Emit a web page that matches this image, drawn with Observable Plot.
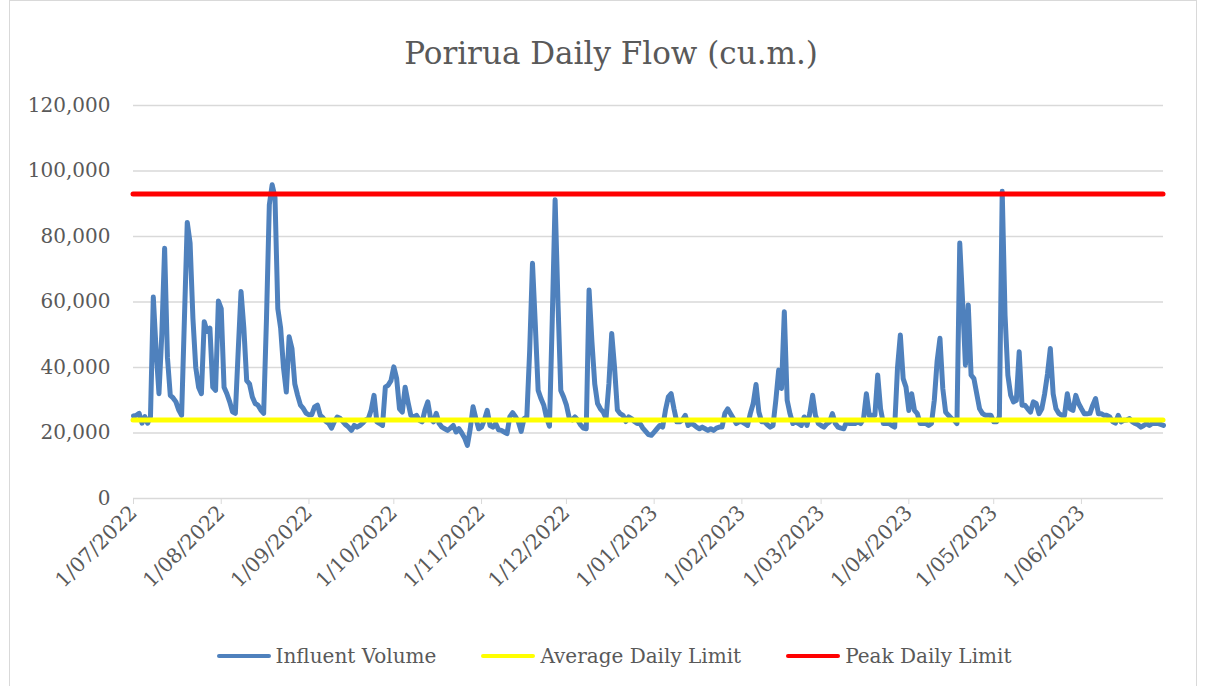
<!DOCTYPE html>
<html><head><meta charset="utf-8">
<script src="https://cdn.jsdelivr.net/npm/d3@7"></script>
<script src="https://cdn.jsdelivr.net/npm/@observablehq/plot@0.6"></script>
<style>
body{margin:0;background:#fff;}
#wrap{position:relative;width:1206px;height:686px;overflow:hidden;font-family:"DejaVu Serif",serif;color:#595959;background:#fff;}
#frame{position:absolute;left:9px;top:0;width:1188px;height:700px;border:1px solid #d9d9d9;box-sizing:border-box;}
#title{position:absolute;left:9px;width:1204px;top:33px;text-align:center;font-size:31px;line-height:40px;white-space:nowrap;}
#chart{position:absolute;left:0;top:90px;}
#legend{position:absolute;top:643px;left:22px;width:1184px;height:26px;font-size:20px;display:flex;justify-content:center;align-items:center;gap:45px;white-space:nowrap;}
.item{display:flex;align-items:center;}
.sw{width:54px;height:4px;border-radius:2px;margin-right:5px;}
</style></head><body>
<div id="wrap">
  <div id="frame"></div>
  <div id="title">Porirua Daily Flow (cu.m.)</div>
  <div id="chart"></div>
  <div id="legend"></div>
</div>
<script>
// ---- data ----
const startDate = "2022-07-01";
const endDate = "2023-06-30";
const seriesNames = ["Influent Volume", "Average Daily Limit", "Peak Daily Limit"];
const seriesColors = ["#4f81bd", "#ffff00", "#ff0000"];
const averageDailyLimit = 24000;
const peakDailyLimit = 93000;
const yTickValues = [0, 20000, 40000, 60000, 80000, 100000, 120000];
const monthTickLabels = ["1/07/2022","1/08/2022","1/09/2022","1/10/2022","1/11/2022","1/12/2022","1/01/2023","1/02/2023","1/03/2023","1/04/2023","1/05/2023","1/06/2023"];
const influentVolume = [
25200,25400,26000,23000,25000,23000,25000,61500,45000,32000,
50000,76400,43000,31500,30700,29500,27000,25400,55000,84300,
78000,55000,40000,34000,32000,54000,51000,52000,34000,33000,
60300,58000,34000,32000,29500,26500,26000,45000,63200,52000,
36000,35000,31000,29000,28500,27000,26000,55000,89700,95800,
92000,58000,52000,40000,32500,49400,45800,35000,31500,28500,
27500,26000,25600,25600,28000,28500,25400,24600,23500,22900,
21500,23500,24900,24500,23500,22500,21800,20800,22300,21800,
22300,23000,24000,24400,27000,31500,23400,22900,22300,34000,
34600,36000,40200,36600,27400,26400,34000,29500,25400,24900,
25400,23900,23400,27000,29500,24400,23400,26000,22900,21800,
21300,20800,21500,22300,20300,21300,20000,18500,16200,21300,
28000,24400,21300,21800,24000,26900,22300,21800,22900,21000,
20800,20300,19800,25000,26200,25000,23400,20500,24400,24900,
45000,71800,53000,33000,30500,28500,24500,22100,55000,91200,
60000,33000,31000,28500,24500,24000,24900,23900,22500,21500,
21300,63700,48000,35000,29000,27400,26400,24400,35000,50400,
40000,27000,25900,25400,23500,24900,24400,23500,22900,22900,
21500,20500,19500,19300,20300,21300,22300,21800,27000,31000,
32000,27400,23400,23400,24000,25400,22300,22900,22500,21800,
21300,21800,21300,20800,21300,20800,21500,21800,21800,26000,
27400,25900,24400,22900,23400,23400,22900,22300,26000,29000,
34800,26400,23400,23400,22500,21800,22300,30000,39200,33600,
57000,30000,25900,22900,23400,22900,22300,24900,22300,26000,
31500,25400,22900,22300,21800,22800,23400,25900,22900,21800,
21500,21300,23400,22900,22900,22900,23400,22900,24400,32000,
25400,25400,25400,37700,27400,22900,22900,22900,22300,21800,
40000,49900,36600,34000,26900,32000,26900,25900,22900,22900,
22900,22300,22900,30000,42000,48900,33600,26400,25400,24500,
23900,22900,78000,60100,40700,59100,37700,36600,32000,27400,
26000,25400,25400,25400,23400,23400,25000,93800,56000,37700,
31500,29500,30000,44800,28500,28500,27400,26400,29500,29000,
25900,27400,32000,38000,45800,32000,27400,26000,25400,25400,
32000,27400,26900,31500,29000,27400,25900,25900,26000,28500,
30500,25900,25900,25400,25400,24900,23500,23000,25400,23400,
23900,24000,24400,23400,22900,22500,21800,22300,22900,22300,
22900,22900,22900,22600,22300
];

// ---- build ----
const start = d3.utcParse("%Y-%m-%d")(startDate);
const end = d3.utcParse("%Y-%m-%d")(endDate);
const table = influentVolume.map((v, i) => ({date: d3.utcDay.offset(start, i), flow: v}));
const parseTick = d3.utcParse("%d/%m/%Y");
const monthTicks = monthTickLabels.map(parseTick);
const fmtTick = d3.utcFormat("%-d/%m/%Y");

const chart = Plot.plot({
  width: 1206, height: 540,
  marginLeft: 133, marginRight: 43, marginTop: 15, marginBottom: 132,
  style: {fontFamily: "DejaVu Serif, serif", fontSize: "20px", color: "#595959", background: "transparent", overflow: "visible"},
  x: {type: "utc", domain: [start, end]},
  y: {domain: [0, 120000]},
  marks: [
    Plot.gridY(yTickValues, {stroke: "#d9d9d9", strokeOpacity: 1, strokeWidth: 1.5}),
    Plot.axisY(yTickValues, {tickSize: 0, tickPadding: 23, tickFormat: d3.format(","), label: null, fill: "#595959"}),
    Plot.axisX(monthTicks, {tickSize: 6, tickPadding: 5, stroke: "#d9d9d9", tickRotate: -45, tickFormat: fmtTick, label: null, fill: "#595959", fontSize: 20.5}),
    Plot.lineY(table, {x: "date", y: "flow", stroke: seriesColors[0], strokeWidth: 5, strokeLinejoin: "round", strokeLinecap: "round"}),
    Plot.ruleY([averageDailyLimit], {stroke: seriesColors[1], strokeWidth: 5, strokeLinecap: "round"}),
    Plot.ruleY([peakDailyLimit], {stroke: seriesColors[2], strokeWidth: 5, strokeLinecap: "round"})
  ]
});
document.getElementById("chart").appendChild(chart);

const legend = document.getElementById("legend");
seriesNames.forEach((name, i) => {
  const it = document.createElement("div");
  it.className = "item";
  const sw = document.createElement("div");
  sw.className = "sw";
  sw.style.background = seriesColors[i];
  const t = document.createElement("span");
  t.textContent = name;
  it.appendChild(sw); it.appendChild(t);
  legend.appendChild(it);
});
</script>
</body></html>
